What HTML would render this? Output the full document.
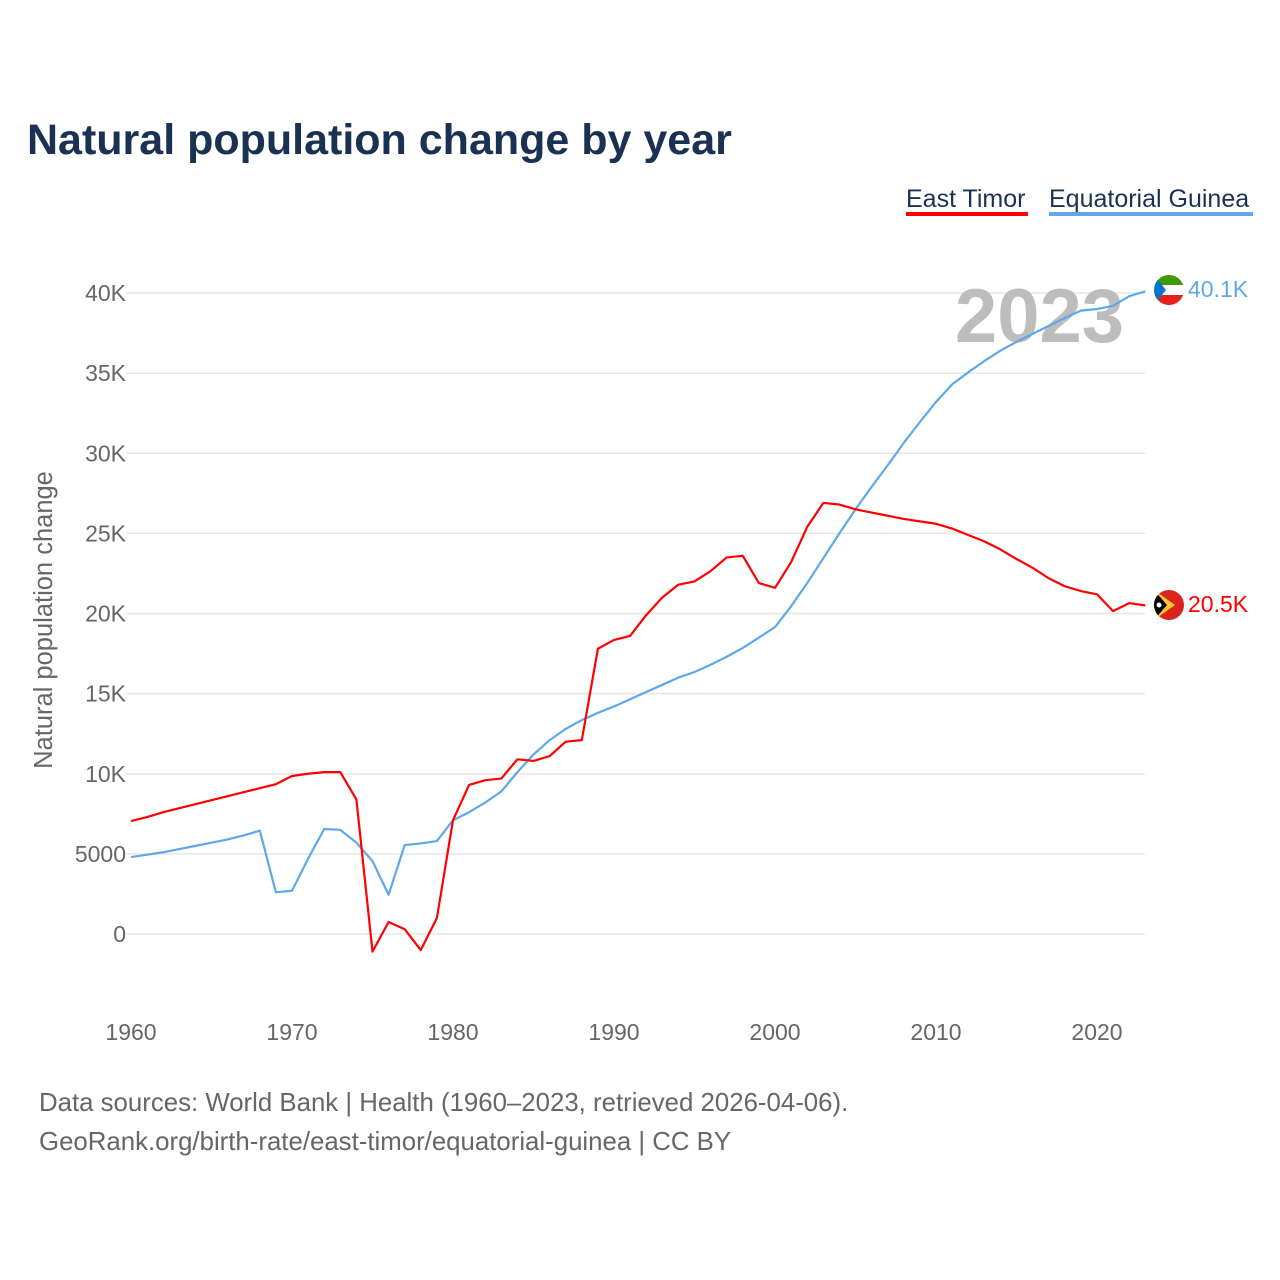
<!DOCTYPE html>
<html><head><meta charset="utf-8"><style>
body{margin:0;background:#fff;}
svg{display:block;font-family:"Liberation Sans",sans-serif;}
</style></head><body>
<svg width="1280" height="1280" viewBox="0 0 1280 1280">
<text x="27" y="154" font-size="43" font-weight="bold" fill="#1b3153">Natural population change by year</text>
<g>
<text x="906" y="207" font-size="25" fill="#1b3153">East Timor</text>
<rect x="906" y="212" width="122" height="4" fill="#ff0000"/>
<text x="1049" y="207" font-size="25" fill="#1b3153">Equatorial Guinea</text>
<rect x="1049" y="212" width="204" height="4" fill="#5da8ec"/>
</g>
<g id="grid"></g>
<g id="yticks"></g>
<g id="xticks"></g>
<text x="52" y="620" font-size="25.5" fill="#666" transform="rotate(-90 52 620)" text-anchor="middle">Natural population change</text>
<text x="1124" y="342" font-size="76" font-weight="bold" fill="#bdbdbd" text-anchor="end">2023</text>
<g id="series"></g>
<g>
<clipPath id="c1"><circle cx="1169" cy="290" r="15"/></clipPath>
<g clip-path="url(#c1)"><rect x="1154" y="275" width="30" height="10" fill="#3e9a00"/><rect x="1154" y="285" width="30" height="10" fill="#fff"/><rect x="1154" y="295" width="30" height="10" fill="#e32118"/><polygon points="1154,275 1166,290 1154,305" fill="#0073ce"/></g>
</g>
<g>
<clipPath id="c2"><circle cx="1169" cy="605" r="15"/></clipPath>
<g clip-path="url(#c2)"><rect x="1154" y="590" width="30" height="30" fill="#dc241f"/><polygon points="1154,590 1175,605 1154,620" fill="#ffc726"/><polygon points="1154,590 1167,605 1154,620" fill="#000"/><circle cx="1159" cy="605" r="2.5" fill="#fff"/></g>
</g>
<text x="1188" y="297" font-size="23" fill="#5da8ec">40.1K</text>
<text x="1188" y="612" font-size="23" fill="#ff0000">20.5K</text>
<text x="39" y="1111" font-size="25.8" fill="#666">Data sources: World Bank | Health (1960–2023, retrieved 2026-04-06).</text>
<text x="39" y="1150" font-size="25.8" fill="#666">GeoRank.org/birth-rate/east-timor/equatorial-guinea | CC BY</text>
</svg>
<script>
const startYear = 1960;
const eastTimor = [7.05,7.3,7.6,7.85,8.1,8.35,8.6,8.85,9.1,9.35,9.86,10.0,10.1,10.1,8.4,-1.1,0.75,0.3,-1.0,1.0,7.1,9.3,9.6,9.7,10.9,10.8,11.1,12.0,12.1,17.8,18.35,18.6,19.9,21.0,21.8,22.0,22.65,23.5,23.6,21.9,21.6,23.2,25.4,26.9,26.8,26.5,26.3,26.1,25.9,25.75,25.6,25.3,24.9,24.5,24.0,23.4,22.85,22.2,21.7,21.4,21.2,20.15,20.65,20.5];
const eqGuinea = [4.8,4.95,5.1,5.3,5.5,5.7,5.9,6.15,6.45,2.6,2.7,4.7,6.55,6.5,5.7,4.55,2.45,5.55,5.65,5.8,7.1,7.6,8.2,8.9,10.1,11.2,12.1,12.8,13.35,13.8,14.2,14.65,15.1,15.55,16.0,16.35,16.8,17.3,17.85,18.5,19.15,20.45,21.9,23.45,25.0,26.5,27.9,29.25,30.65,31.95,33.2,34.3,35.05,35.75,36.4,36.95,37.45,37.95,38.45,38.9,39.0,39.2,39.8,40.1];
const yTicks = [0,5,10,15,20,25,30,35,40];
const yTickLabels = ["0","5000","10K","15K","20K","25K","30K","35K","40K"];
const xTicks = [1960,1970,1980,1990,2000,2010,2020];
const NS="http://www.w3.org/2000/svg";
const X = y => 131 + (y-1960)*16.1;
const Y = v => 934 - v*16.025;
const grid=document.getElementById('grid'), yt=document.getElementById('yticks'), xt=document.getElementById('xticks'), se=document.getElementById('series');
yTicks.forEach((t,i)=>{
  const l=document.createElementNS(NS,'line');
  l.setAttribute('x1',126);l.setAttribute('x2',1145);l.setAttribute('y1',Y(t));l.setAttribute('y2',Y(t));
  l.setAttribute('stroke','#e6e6e6');l.setAttribute('stroke-width','1.5');
  
  
  grid.appendChild(l);
  const tx=document.createElementNS(NS,'text');
  tx.setAttribute('x',126);tx.setAttribute('y',Y(t)+8);tx.setAttribute('text-anchor','end');
  tx.setAttribute('font-size','23');tx.setAttribute('fill','#666');tx.textContent=yTickLabels[i];
  
  
  yt.appendChild(tx);
});
xTicks.forEach(t=>{
  const tx=document.createElementNS(NS,'text');
  tx.setAttribute('x',X(t));tx.setAttribute('y',1040);tx.setAttribute('text-anchor','middle');
  tx.setAttribute('font-size','23');tx.setAttribute('fill','#666');tx.textContent=t;
  
  
  xt.appendChild(tx);
});
function line(data,color,name){
  const p=document.createElementNS(NS,'polyline');
  p.setAttribute('points',data.map((v,i)=>X(startYear+i)+','+Y(v)).join(' '));
  p.setAttribute('fill','none');p.setAttribute('stroke',color);p.setAttribute('stroke-width','2.2');
  p.setAttribute('stroke-linejoin','round');
  
  
  se.appendChild(p);
}
line(eqGuinea,'#5da8ec','line-equatorial-guinea');
line(eastTimor,'#ff0000','line-east-timor');
</script>
</body></html>
